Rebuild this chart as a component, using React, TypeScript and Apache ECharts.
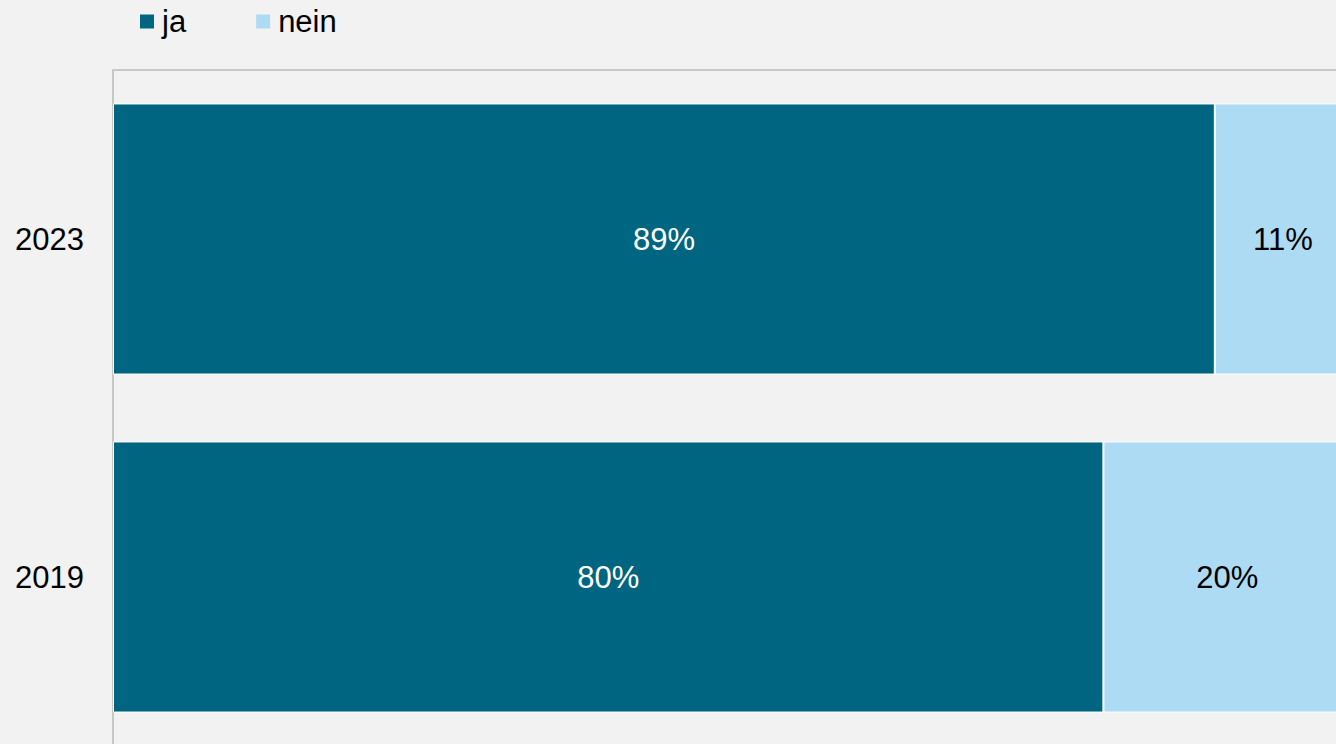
import React, { useEffect, useRef } from "react";
import * as echarts from "echarts";

const categories = ["2019", "2023"];
const jaValues = [80, 89];
const neinValues = [20, 11];
const seriesNames = ["ja", "nein"];

export default function App() {
  const ref = useRef<HTMLDivElement>(null);
  useEffect(() => {
    const chart = echarts.init(ref.current!, null, { renderer: "svg" });
    const font = "'Liberation Sans', Arial, sans-serif";
    const fs = 31;
    chart.setOption({
      animation: false,
      backgroundColor: "#f2f2f2",
      textStyle: { fontFamily: font },
      legend: {
        left: 135,
        top: 1,
        itemWidth: 14,
        itemHeight: 14,
        itemGap: 70,
        icon: "rect",
        itemStyle: { borderWidth: 0 },
        textStyle: { fontSize: fs, color: "#000", fontFamily: font, padding: [0, 0, 0, 3] },
        data: seriesNames,
      },
      grid: {
        left: 113,
        top: 70,
        width: 1238,
        height: 676,
        containLabel: false,
        outerBoundsMode: "none",
      },
      xAxis: {
        type: "value",
        position: "top",
        min: 0,
        max: 100,
        axisLine: { show: true, lineStyle: { color: "#c8c8c8", width: 2 } },
        axisTick: { show: false },
        axisLabel: { show: false },
        splitLine: { show: false },
      },
      yAxis: {
        type: "category",
        data: categories,
        axisLine: { show: true, lineStyle: { color: "#c8c8c8", width: 2 } },
        axisTick: { show: false },
        axisLabel: { fontSize: fs, color: "#000", margin: 29, fontFamily: font },
      },
      series: [
        {
          name: seriesNames[0],
          type: "bar",
          stack: "total",
          data: jaValues,
          barCategoryGap: "19.8%",
          itemStyle: { color: "#006580", borderColor: "#ffffff", borderWidth: 1 },
          label: {
            show: true,
            position: "inside",
            formatter: "{c}%",
            color: "#fff",
            fontSize: fs,
            fontFamily: font,
          },
        },
        {
          name: seriesNames[1],
          type: "bar",
          stack: "total",
          data: neinValues,
          itemStyle: { color: "#aedbf4", borderColor: "#ffffff", borderWidth: 1 },
          label: {
            show: true,
            position: "inside",
            formatter: "{c}%",
            color: "#000",
            fontSize: fs,
            fontFamily: font,
          },
        },
      ],
    });
    return () => chart.dispose();
  }, []);
  return (
    <div
      ref={ref}
      style={{ position: "fixed", left: 0, top: 0, width: 1336, height: 744 }}
    />
  );
}
